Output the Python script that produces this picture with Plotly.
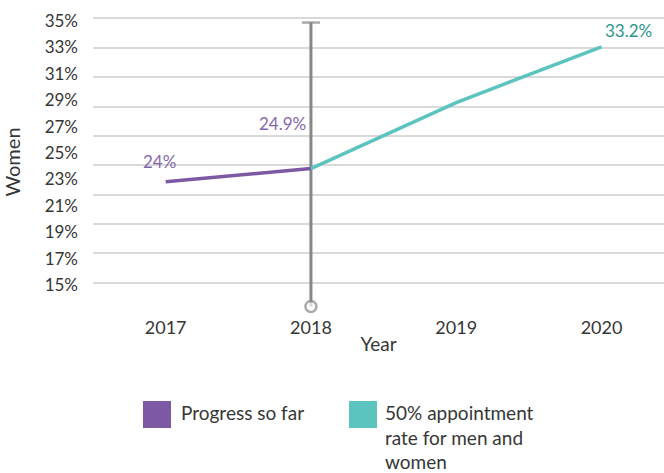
import plotly.graph_objects as go

# ---- data ----
years = ["2017", "2018", "2019", "2020"]
progress_years = ["2017", "2018"]
progress_values = [24.0, 24.9]
target_years = ["2018", "2019", "2020"]
target_values = [24.9, 29.4, 33.2]
series_names = ["Progress so far", "50% appointment<br>rate for men and<br>women"]
value_labels = ["24%", "24.9%", "33.2%"]
y_tick_values = [15, 17, 19, 21, 23, 25, 27, 29, 31, 33, 35]
y_tick_labels = [f"{v}%" for v in y_tick_values]
divider_year = "2018"
divider_top = 34.85
divider_bottom = 15.5

PURPLE = "#7d58a3"
PURPLE_TXT = "#8466ad"
TEAL = "#5bc4bf"
TEAL_TXT = "#2a968e"
GREY = "#878787"
TXT = "#363636"
FONT = "Lato"
WT = 400

W, H = 664, 473
ML, MR, MT, MB = 93, 0, 13, 162

fig = go.Figure()

# divider line with cap and open circle
fig.add_trace(go.Scatter(
    x=[divider_year, divider_year], y=[divider_top, divider_bottom],
    mode="lines+markers",
    line=dict(color=GREY, width=3),
    marker=dict(symbol=["line-ew", "circle"], size=[13, 11],
                color="white", line=dict(color=GREY, width=2.5)),
    cliponaxis=False, showlegend=False, hoverinfo="skip"))

fig.add_trace(go.Scatter(
    x=progress_years, y=progress_values, mode="lines",
    line=dict(color=PURPLE, width=3.5), name="Progress so far",
    showlegend=False))
fig.add_trace(go.Scatter(
    x=target_years, y=target_values, mode="lines",
    line=dict(color=TEAL, width=3.5), name="50% appointment rate for men and women",
    showlegend=False))

# tick-label axis (overlay)
fig.add_trace(go.Scatter(x=[years[0]], y=[None], yaxis="y2", showlegend=False,
                         hoverinfo="skip"))

# value labels (category index positions)
def xi(year):
    return years.index(year)

lab_font = dict(family=FONT, size=17, weight=WT)
fig.add_annotation(xref="x", yref="y", x=xi(progress_years[0]), y=progress_values[0],
                   text=value_labels[0], showarrow=False, xshift=-6, yshift=20,
                   font=dict(lab_font, color=PURPLE_TXT))
fig.add_annotation(xref="x", yref="y", x=xi(progress_years[1]), y=progress_values[1],
                   text=value_labels[1], showarrow=False, xshift=-28, yshift=45,
                   font=dict(lab_font, color=PURPLE_TXT))
fig.add_annotation(xref="x", yref="y", x=xi(target_years[-1]), y=target_values[-1],
                   text=value_labels[2], showarrow=False, xshift=27, yshift=16,
                   font=dict(lab_font, color=TEAL_TXT))

# manual legend
pw = W - ML - MR
ph = H - MT - MB
def fx(px):
    return (px - ML) / pw
def fy(py):
    return (H - MB - py) / ph

legend_items = [(143, PURPLE, series_names[0], 179), (349, TEAL, series_names[1], 383)]
for sx, col, name, tx in legend_items:
    fig.add_shape(type="rect", xref="paper", yref="paper",
                  x0=fx(sx), x1=fx(sx + 28), y0=fy(401), y1=fy(428),
                  fillcolor=col, line=dict(width=0))
    fig.add_annotation(xref="paper", yref="paper", x=fx(tx), y=fy(399),
                       xanchor="left", yanchor="top", align="left",
                       text=name, showarrow=False,
                       font=dict(family=FONT, size=19, color=TXT, weight=WT))

fig.update_layout(
    width=W, height=H,
    margin=dict(l=ML, r=MR, t=MT, b=MB, autoexpand=False),
    paper_bgcolor="white", plot_bgcolor="white",
    font=dict(family=FONT, color=TXT, weight=WT),
    showlegend=False,
    xaxis=dict(type="category", categoryorder="array", categoryarray=years,
               range=[-0.5, 3.43], showgrid=False, zeroline=False, showline=False,
               ticks="", tickfont=dict(size=18, color=TXT, weight=WT), ticklabelstandoff=4,
               title=dict(text="Year", font=dict(size=19, color=TXT, weight=WT), standoff=0),
               automargin=False),
    yaxis=dict(range=[15.2, 35.5], tick0=17.13, dtick=2, showticklabels=False,
               showgrid=True, gridcolor="#d9d9d9", gridwidth=2, zeroline=False,
               showline=False, ticks="", automargin=False),
    yaxis2=dict(overlaying="y", side="left", range=[13.03, 35.61],
                tickvals=y_tick_values, ticktext=y_tick_labels,
                showgrid=False, zeroline=False, showline=False, ticks="",
                tickfont=dict(size=17, color=TXT, weight=WT), ticklabelstandoff=14,
                title=dict(text="Women", font=dict(size=20, color=TXT, weight=WT), standoff=18),
                automargin=False),
)

fig.write_html("out.html")
